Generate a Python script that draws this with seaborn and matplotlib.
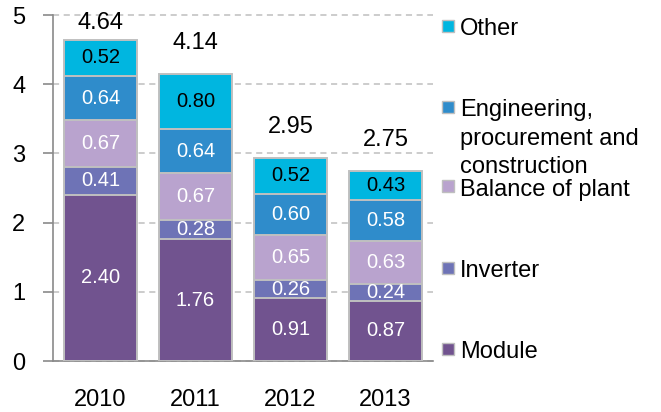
import numpy as np
import pandas as pd
import matplotlib
matplotlib.use("Agg")
import matplotlib.pyplot as plt
from matplotlib.patches import Rectangle
import seaborn as sns

# PV system cost breakdown by year (stacked components)
years = ["2010", "2011", "2012", "2013"]
module = [2.40, 1.76, 0.91, 0.87]
inverter = [0.41, 0.28, 0.26, 0.24]
balance_of_plant = [0.67, 0.67, 0.65, 0.63]
epc = [0.64, 0.64, 0.60, 0.58]
other = [0.52, 0.80, 0.52, 0.43]
totals = [4.64, 4.14, 2.95, 2.75]

series_names = ["Module", "Inverter", "Balance of plant",
                "Engineering,\nprocurement and\nconstruction", "Other"]
series_values = [module, inverter, balance_of_plant, epc, other]
series_colors = ["#71538F", "#6E73B6", "#B9A3CE", "#2F8CCB", "#00B6E0"]
label_colors = ["white", "white", "white", "white", "black"]

sns.set_style("white")
plt.rcParams["font.family"] = ["Liberation Sans", "DejaVu Sans"]

W, H = 661, 412
fig = plt.figure(figsize=(W / 100, H / 100), dpi=100)
ax = fig.add_axes([53 / W, 51 / H, 380 / W, 346 / H])

df = pd.DataFrame({"year": years})
for name, vals in zip(series_names, series_values):
    df[name] = vals
cum = df[series_names].cumsum(axis=1)

edge = "#C0C0C0"
# draw cumulative heights from the top component down so each layer shows as a segment
for name, color in reversed(list(zip(series_names, series_colors))):
    sns.barplot(data=cum.assign(year=years), x="year", y=name, color=color,
                width=0.76, edgecolor=edge, linewidth=1.4, errorbar=None,
                saturation=1, order=years, ax=ax, zorder=3)

# segment value labels and totals above each bar (kept inside the plot height)
for i, year in enumerate(years):
    base = 0.0
    for vals, tc in zip(series_values, label_colors):
        v = vals[i]
        ax.text(i, base + v / 2, f"{v:.2f}", ha="center", va="center",
                color=tc, fontsize=14.5, zorder=5)
        base += v
    ax.text(i, min(base + 0.44, 4.88), f"{totals[i]:.2f}", ha="center", va="center",
            color="black", fontsize=17, zorder=5)

ax.set_xlim(-0.5, 3.5)
ax.set_ylim(0, 5)
ax.set_yticks([0, 1, 2, 3, 4, 5])
ax.set_xlabel("")
ax.set_ylabel("")

ax.yaxis.grid(True, linestyle=(0, (4, 3)), color="#BEBEBE", linewidth=1.1, zorder=0)
ax.xaxis.grid(False)
ax.set_axisbelow(True)
for gl in ax.get_ygridlines():
    gl.set_clip_on(False)

for side in ["top", "right"]:
    ax.spines[side].set_visible(False)
for side in ["left", "bottom"]:
    ax.spines[side].set_color("#8A8A8A")
    ax.spines[side].set_linewidth(1.2)

# category boundaries get the tick marks, labels sit at the bar centres
ax.set_xticks([-0.5, 0.5, 1.5, 2.5, 3.5], minor=True)
ax.tick_params(axis="x", which="minor", length=6, width=1.2, color="#8A8A8A", direction="out")
ax.tick_params(axis="x", which="major", length=0, pad=20, labelsize=17, labelcolor="black")
ax.tick_params(axis="y", which="major", length=7, width=1.2, color="#8A8A8A",
               direction="out", pad=13, labelsize=17, labelcolor="black", left=True)

# legend entries, top to bottom
legend_order = list(zip(series_names, series_colors))[::-1]
baselines = [35, 116, 196, 277, 358]
for (name, color), by in zip(legend_order, baselines):
    sq = Rectangle((442 / W, 1 - (by - 3.5) / H), 12 / W, 12 / H,
                   transform=fig.transFigure, facecolor=color,
                   edgecolor="#BFBFBF", linewidth=1.0)
    fig.patches.append(sq)
    for k, line in enumerate(name.split("\n")):
        fig.text(460 / W, 1 - (by + k * 28.5) / H, line, ha="left", va="baseline",
                 fontsize=17, color="black")

fig.savefig("out.png", dpi=100)
